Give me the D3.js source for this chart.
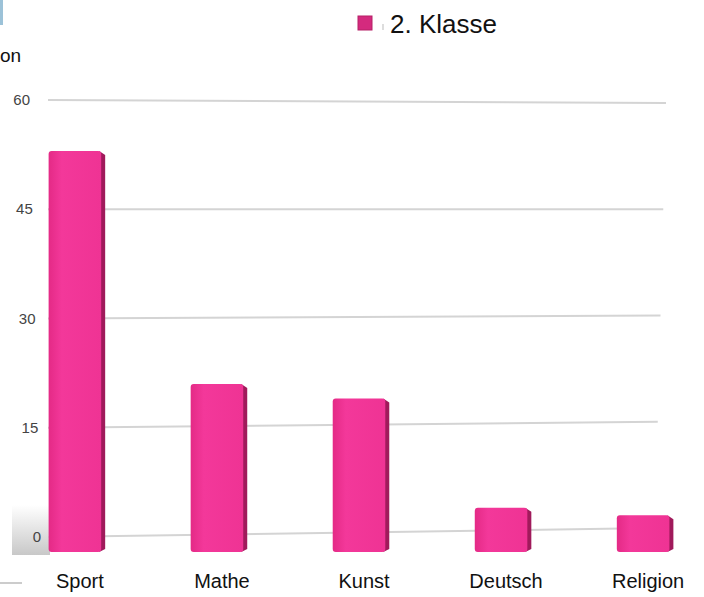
<!DOCTYPE html>
<html>
<head>
<meta charset="utf-8">
<script src="https://cdn.jsdelivr.net/npm/d3@7"></script>
<style>
  html, body { margin: 0; padding: 0; background: #fff; }
  svg { display: block; font-family: "Liberation Sans", Arial, sans-serif; }
</style>
</head>
<body>
<div id="chart"></div>
<script>
// Schulfächer – 2. Klasse
const categories = ['Sport', 'Mathe', 'Kunst', 'Deutsch', 'Religion'];
const values = [53, 21, 19, 4, 3];
const ticks = [0, 15, 30, 45, 60];
const seriesName = '2. Klasse';

const width = 704, height = 597;
const svg = d3.select('#chart').append('svg')
  .attr('width', width)
  .attr('height', height);

const defs = svg.append('defs');
const front = defs.append('linearGradient').attr('id', 'front').attr('x1', 0).attr('x2', 1);
front.append('stop').attr('offset', '0%').attr('stop-color', '#e42a86');
front.append('stop').attr('offset', '25%').attr('stop-color', '#f3389a');
front.append('stop').attr('offset', '100%').attr('stop-color', '#ef3394');
const shade = defs.append('linearGradient').attr('id', 'shade').attr('x1', 0).attr('x2', 0).attr('y1', 0).attr('y2', 1);
shade.append('stop').attr('offset', '0%').attr('stop-color', '#fff');
shade.append('stop').attr('offset', '100%').attr('stop-color', '#c8c8c8');

// perspective: back wall slightly tilted, left and right edges
const yL = d3.scaleLinear().domain([0, 60]).range([537, 100]);
const yR = d3.scaleLinear().domain([0, 60]).range([528, 103]);
const xR = d3.scaleLinear().domain([0, 60]).range([655, 666]);
const x = d3.scaleBand().domain(categories).range([6, 712]).paddingInner(0.63).paddingOuter(0.3);
const base = yL(0) + 15;

// Reste am Rand (abgeschnittener Screenshot)
svg.append('rect').attr('x', 0).attr('y', 0).attr('width', 3).attr('height', 25).attr('fill', '#9cc2d8');
svg.append('rect').attr('x', 12).attr('y', 505).attr('width', 38).attr('height', 50).attr('fill', 'url(#shade)');
svg.append('line').attr('x1', 0).attr('x2', 22).attr('y1', 583).attr('y2', 583)
  .attr('stroke', '#ccc').attr('stroke-width', 2);
svg.append('text').attr('x', 0).attr('y', 62).attr('font-size', 19).attr('fill', '#111').text('on');

// Gitterlinien
svg.append('g').selectAll('line').data(ticks).join('line')
  .attr('x1', 48).attr('x2', d => xR(d))
  .attr('y1', d => yL(d)).attr('y2', d => yR(d))
  .attr('stroke', '#d4d4d4').attr('stroke-width', 2);

svg.append('g').selectAll('text').data(ticks).join('text')
  .attr('x', d => 41 - d / 60 * 11)
  .attr('y', d => yL(d) + 5)
  .attr('text-anchor', 'end')
  .attr('font-size', 15)
  .attr('fill', '#444')
  .text(d => d);

// Balken
const bars = svg.append('g').selectAll('g').data(categories).join('g');
bars.append('path')
  .attr('fill', '#a01a5b')
  .attr('d', (d, i) => {
    const x1 = x(d) + x.bandwidth() - 2, t = yL(values[i]);
    return `M${x1},${t}L${x1 + 6},${t + 4}L${x1 + 6},${base - 3}L${x1},${base}Z`;
  });
bars.append('rect')
  .attr('x', d => x(d))
  .attr('y', (d, i) => yL(values[i]))
  .attr('width', x.bandwidth())
  .attr('height', (d, i) => base - yL(values[i]))
  .attr('rx', 3)
  .attr('fill', 'url(#front)');

svg.append('g').selectAll('text').data(categories).join('text')
  .attr('x', d => x(d) + x.bandwidth() / 2 + 5)
  .attr('y', 588)
  .attr('text-anchor', 'middle')
  .attr('font-size', 20)
  .attr('fill', '#111')
  .text(d => d);

// Legende
svg.append('rect').attr('x', 358).attr('y', 16).attr('width', 14).attr('height', 14)
  .attr('fill', '#d42a7e').attr('stroke', '#b52067');
svg.append('rect').attr('x', 382).attr('y', 24).attr('width', 2).attr('height', 6).attr('fill', '#ddd');
svg.append('text').attr('x', 390).attr('y', 33).attr('font-size', 26).attr('fill', '#111').text(seriesName);
</script>
</body>
</html>
